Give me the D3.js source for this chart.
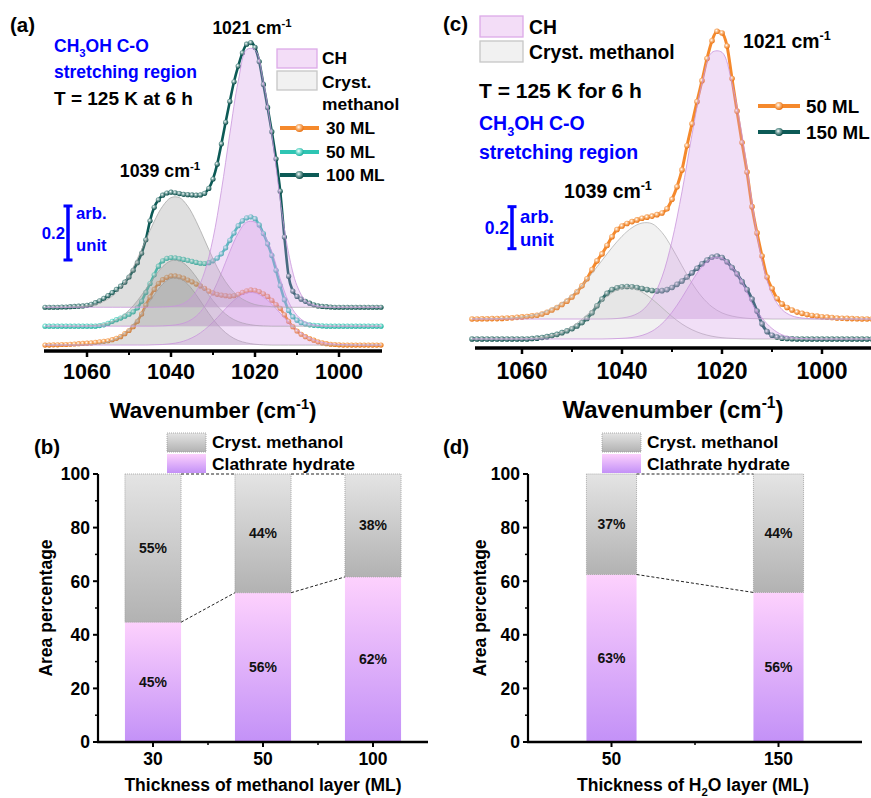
<!DOCTYPE html>
<html><head><meta charset="utf-8">
<script src="https://cdn.jsdelivr.net/npm/d3@7/dist/d3.min.js"></script>
<style>
html,body{margin:0;padding:0;background:#fff;}
svg{display:block;}
text{font-family:"Liberation Sans",Arial,Helvetica,sans-serif;font-weight:bold;}
</style></head><body>
<svg id="fig" width="871" height="798"></svg>
<script>
// ---------------- DATA ----------------
const wnFine = d3.range(1070, 989, -1);   // measured points, 1 cm-1 step
const wnFit  = d3.range(1070, 989, -2);   // fitted component sampling
const ticksMajor = [1060, 1040, 1020, 1000];
const ticksMinor = [1050, 1030, 1010];

// Panel (a): methanol thickness series (absorbance above own baseline)
const specA30 = [0,0,.001,.001,.002,.002,.003,.004,.005,.006,
 .007,.008,.01,.012,.014,.016,.02,.025,.031,.042,
 .054,.068,.088,.115,.148,.178,.206,.228,.242,.251,
 .256,.256,.253,.248,.241,.234,.226,.219,.21,.2,
 .193,.188,.185,.183,.181,.183,.188,.195,.201,.204,
 .203,.198,.19,.18,.166,.15,.136,.112,.088,.068,
 .052,.04,.031,.024,.018,.012,.008,.005,.003,.002,
 .001,0,0,0,0,0,0,0,0,0,0];
const specA50 = [0,0,0,0,0,0,0,0,0,0,
 0,0,0,.002,.005,.01,.018,.024,.03,.037,
 .044,.053,.068,.092,.125,.158,.19,.222,.242,.251,
 .254,.253,.25,.247,.244,.24,.236,.233,.232,.235,
 .242,.252,.268,.29,.318,.345,.372,.39,.401,.405,
 .398,.375,.343,.305,.262,.207,.15,.098,.058,.035,
 .022,.013,.008,.005,.003,.002,.001,0,0,0,
 0,0,0,0,0,0,0,0,0,0,0];
const specA100 = [0,0,0,0,.001,.001,.002,.003,.004,.005,
 .007,.011,.017,.024,.033,.043,.054,.066,.078,.093,
 .112,.137,.165,.2,.25,.32,.37,.398,.415,.423,
 .426,.424,.421,.418,.417,.416,.415,.416,.422,.44,
 .475,.53,.605,.685,.762,.835,.893,.942,.974,.98,
 .962,.91,.825,.74,.65,.55,.43,.26,.115,.06,
 .04,.03,.022,.015,.009,.005,.003,.002,.001,0,
 0,0,0,0,0,0,0,0,0,0,0];
const grayA30 = [0,0,0,0,0,.001,.003,.008,.017,.034,.060,.096,.140,.186,.225,.247,.247,.225,.186,.140,.096,.060,.034,.017,.008,.003,.001,0,0,0,0,0,0,0,0,0,0,0,0,0,0];
const purpleA30 = [0,0,0,0,0,0,0,0,0,0,0,0,0,.001,.002,.005,.010,.020,.035,.057,.085,.118,.151,.178,.193,.193,.178,.151,.118,.085,.057,.035,.020,.010,.005,.002,.001,0,0,0,0];
const grayA50 = [0,0,0,0,0,.001,.003,.008,.017,.033,.059,.094,.137,.182,.220,.242,.242,.220,.182,.137,.094,.059,.033,.017,.008,.003,.001,0,0,0,0,0,0,0,0,0,0,0,0,0,0];
const purpleA50 = [0,0,0,0,0,0,0,0,0,0,0,0,0,0,.001,.003,.007,.017,.037,.073,.127,.197,.276,.344,.385,.385,.344,.276,.175,.09,.04,.015,.005,.001,0,0,0,0,0,0,0];
const grayA100 = [0,0,0,.001,.002,.005,.010,.022,.041,.073,.119,.180,.249,.318,.374,.406,.406,.374,.318,.249,.180,.119,.073,.041,.022,.010,.005,.002,.001,0,0,0,0,0,0,0,0,0,0,0,0];
const purpleA100 = [0,0,0,0,0,0,0,0,0,0,0,0,0,0,.001,.003,.008,.024,.059,.131,.254,.432,.642,.836,.954,.954,.836,.642,.40,.20,.08,.025,.008,.002,0,0,0,0,0,0,0];
const offsetsA = [0, 0.07, 0.14];
const labelsA = ["30 ML", "50 ML", "100 ML"];

// Panel (c): H2O thickness series
const specC50 = [0,0,.001,.001,.002,.002,.003,.005,.006,.008,
 .01,.012,.015,.018,.024,.032,.043,.055,.069,.085,
 .105,.13,.158,.192,.235,.277,.31,.35,.392,.426,
 .443,.455,.464,.472,.48,.485,.49,.497,.505,.525,
 .57,.63,.71,.825,.93,1.035,1.135,1.24,1.325,1.37,
 1.362,1.3,1.145,.99,.84,.70,.535,.41,.30,.20,
 .145,.098,.072,.055,.043,.033,.027,.021,.017,.014,
 .011,.009,.007,.005,.004,.003,.002,.001,0,0,0];
const specC150 = [0,0,0,0,0,0,0,0,0,0,
 0,0,.002,.004,.007,.011,.016,.022,.03,.039,
 .049,.062,.078,.098,.125,.158,.19,.217,.235,.244,
 .249,.25,.249,.245,.24,.235,.231,.229,.23,.235,
 .245,.26,.276,.295,.315,.337,.358,.376,.39,.395,
 .388,.368,.34,.31,.273,.235,.19,.133,.072,.035,
 .018,.009,.004,.002,.001,0,0,0,0,0,
 0,0,0,0,0,0,0,0,0,0,0];
const grayC50 = [0,.001,.001,.003,.005,.010,.018,.030,.050,.077,.115,.162,.218,.279,.340,.394,.435,.457,.454,.412,.339,.253,.171,.105,.058,.029,.014,.006,.002,.001,0,0,0,0,0,0,0,0,0,0,0];
const purpleC50 = [0,0,0,0,0,0,0,0,0,0,0,0,0,0,.001,.005,.015,.040,.096,.200,.372,.606,.878,1.124,1.27,1.27,1.124,.878,.56,.28,.12,.045,.015,.005,.001,0,0,0,0,0,0];
const grayC150 = [0,0,0,0,0,.001,.003,.008,.017,.033,.059,.094,.137,.182,.220,.242,.243,.223,.190,.149,.107,.071,.044,.025,.013,.006,.003,.001,0,0,0,0,0,0,0,0,0,0,0,0,0];
const purpleC150 = [0,0,0,0,0,0,0,0,0,0,0,0,0,0,.001,.003,.007,.017,.037,.073,.127,.197,.276,.344,.385,.385,.344,.276,.17,.10,.05,.02,.007,.002,0,0,0,0,0,0,0];
const offsetsC = [0.095, 0];
const labelsC = ["50 ML", "150 ML"];

// Panel (b) & (d): area percentages
const thickB = ["30", "50", "100"];
const clathB = [44.7, 55.7, 61.6];
const crystB = [55.3, 44.3, 38.4];
const clathLabB = ["45%", "56%", "62%"];
const crystLabB = ["55%", "44%", "38%"];
const thickD = ["50", "150"];
const clathD = [62.5, 55.8];
const crystD = [37.5, 44.2];
const clathLabD = ["63%", "56%"];
const crystLabD = ["37%", "44%"];
const pctTicks = [0, 20, 40, 60, 80, 100];
const pctMinor = [10, 30, 50, 70, 90];

// ---------------- DRAW ----------------
const svg = d3.select('#fig');
const defs = svg.append('defs');
function ballGrad(id, mid, edge){
  const g = defs.append('radialGradient').attr('id', id).attr('cx','40%').attr('cy','38%').attr('r','62%');
  g.append('stop').attr('offset','0%').attr('stop-color','#ffffff');
  g.append('stop').attr('offset','38%').attr('stop-color', mid);
  g.append('stop').attr('offset','100%').attr('stop-color', edge);
}
ballGrad('bOr', '#fbbf88', '#e8700f');
ballGrad('bTe', '#8fe6da', '#18ad9c');
ballGrad('bDk', '#86aeab', '#084a46');
function linGrad(id, top, bot){
  const g = defs.append('linearGradient').attr('id', id).attr('x1',0).attr('y1',0).attr('x2',0).attr('y2',1);
  g.append('stop').attr('offset','0%').attr('stop-color', top);
  g.append('stop').attr('offset','100%').attr('stop-color', bot);
}
linGrad('gGray', '#e4e4e4', '#b2b2b2');
linGrad('gPink', '#fdd1fd', '#c391f7');

const BLUE = '#0000ff';
function rich(g, x, y, size, parts, opts = {}){
  const t = g.append('text').attr('x', x).attr('y', y).attr('font-size', size)
    .attr('fill', opts.fill || '#000').attr('text-anchor', opts.anchor || 'start');
  if (opts.transform) t.attr('transform', opts.transform);
  let shift = 0;
  parts.forEach(p => {
    if (typeof p === 'string') p = {t: p};
    const s = t.append('tspan').text(p.t);
    const target = p.sub ? size * 0.3 : p.sup ? -size * 0.42 : 0;
    const dy = target - shift; shift = target;
    if (dy) s.attr('dy', dy);
    if (p.sub || p.sup) s.attr('font-size', size * 0.65);
  });
  return t;
}

function spectrumPanel(cfg){
  const g = svg.append('g');
  const x = d3.scaleLinear().domain([1070, 990]).range(cfg.xr);
  const y = d3.scaleLinear().domain(cfg.yd).range(cfg.yr);
  // measured spectra (lines + ball markers)
  cfg.series.forEach(s => {
    const pts = wnFine.map((w, i) => [x(w), y(s.vals[i] + s.off)]);
    g.append('path').attr('d', d3.line().curve(d3.curveMonotoneX)(pts))
      .attr('fill', 'none').attr('stroke', s.color).attr('stroke-width', cfg.lw);
    g.append('g').selectAll('circle').data(pts).join('circle')
      .attr('cx', d => d[0]).attr('cy', d => d[1]).attr('r', cfg.r)
      .attr('fill', `url(#${s.grad})`);
  });
  // fitted components (translucent, on top)
  cfg.series.forEach(s => {
    [[s.gray, cfg.grayFill, cfg.grayStroke], [s.purple, cfg.purpFill, cfg.purpStroke]].forEach(([vals, f, st]) => {
      const area = d3.area().curve(d3.curveCatmullRom)
        .x((d, i) => x(wnFit[i])).y0(y(s.off)).y1(d => y(d + s.off));
      g.append('path').attr('d', area(vals)).attr('fill', f);
      const line = d3.line().curve(d3.curveCatmullRom)
        .x((d, i) => x(wnFit[i])).y(d => y(d + s.off));
      g.append('path').attr('d', line(vals)).attr('fill', 'none').attr('stroke', st).attr('stroke-width', 0.8);
    });
  });
  // x axis
  const ay = cfg.axisY;
  g.append('line').attr('x1', cfg.axX[0]).attr('x2', cfg.axX[1]).attr('y1', ay).attr('y2', ay)
    .attr('stroke', '#000').attr('stroke-width', 3.5);
  g.selectAll('line.maj').data(ticksMajor).join('line').attr('class','maj')
    .attr('x1', d => x(d)).attr('x2', d => x(d)).attr('y1', ay).attr('y2', ay + 6)
    .attr('stroke', '#000').attr('stroke-width', 2.5);
  g.selectAll('line.min').data(ticksMinor).join('line').attr('class','min')
    .attr('x1', d => x(d)).attr('x2', d => x(d)).attr('y1', ay).attr('y2', ay + 4)
    .attr('stroke', '#000').attr('stroke-width', 2);
  g.selectAll('text.tk').data(ticksMajor).join('text').attr('class','tk')
    .attr('x', d => x(d)).attr('y', cfg.tickBase).attr('text-anchor', 'middle')
    .attr('font-size', cfg.tickSize).text(d => d);
  rich(g, (cfg.axX[0] + cfg.axX[1]) / 2, cfg.titleBase, cfg.titleSize,
    ['Wavenumber (cm', {t: '-1', sup: true}, ')'], {anchor: 'middle'});
  // scale bar 0.2 arb. unit
  const sb = cfg.scaleBar;
  const y0 = y(sb.v0), y1 = y(sb.v0 + 0.2);
  g.append('line').attr('x1', sb.x).attr('x2', sb.x).attr('y1', y0).attr('y2', y1).attr('stroke', BLUE).attr('stroke-width', 3.5);
  [y0, y1].forEach(yy => g.append('line').attr('x1', sb.x - 4.5).attr('x2', sb.x + 4.5).attr('y1', yy).attr('y2', yy).attr('stroke', BLUE).attr('stroke-width', 3));
  g.append('text').attr('x', sb.x - 3).attr('y', (y0 + y1) / 2 + sb.size * 0.36).attr('text-anchor', 'end')
    .attr('font-size', sb.size).attr('fill', BLUE).text('0.2');
  g.append('text').attr('x', sb.x + 8).attr('y', sb.arbY).attr('font-size', sb.size2).attr('fill', BLUE).text('arb.');
  g.append('text').attr('x', sb.x + 8).attr('y', sb.unitY).attr('font-size', sb.size2).attr('fill', BLUE).text('unit');
  // line legend
  const lg = cfg.lineLegend;
  cfg.series.forEach((s, i) => {
    const yy = lg.y[i];
    g.append('line').attr('x1', lg.x0).attr('x2', lg.x1).attr('y1', yy).attr('y2', yy).attr('stroke', s.color).attr('stroke-width', 4.2);
    g.append('circle').attr('cx', (lg.x0 + lg.x1) / 2).attr('cy', yy).attr('r', 4).attr('fill', `url(#${s.grad})`);
    g.append('text').attr('x', lg.tx).attr('y', yy + lg.size * 0.36).attr('font-size', lg.size).text(s.label);
  });
  // swatch legend
  const sw = cfg.swatch;
  g.append('rect').attr('x', sw.x).attr('y', sw.y[0]).attr('width', sw.w).attr('height', sw.h)
    .attr('fill', '#f3ddf7').attr('stroke', '#dcaae8').attr('stroke-width', 1.3);
  g.append('rect').attr('x', sw.x).attr('y', sw.y[1]).attr('width', sw.w).attr('height', sw.h)
    .attr('fill', '#f1f1f1').attr('stroke', '#c6c6c6').attr('stroke-width', 1.3);
  return {g, x, y};
}

// ---- Panel (a)
const A = spectrumPanel({
  xr: [45, 381], yd: [-0.022, 1.2], yr: [351, 21], lw: 2.6, r: 2.6,
  series: [
    {vals: specA30, off: offsetsA[0], color: '#f5892c', grad: 'bOr', gray: grayA30, purple: purpleA30, label: labelsA[0]},
    {vals: specA50, off: offsetsA[1], color: '#2ec5b3', grad: 'bTe', gray: grayA50, purple: purpleA50, label: labelsA[1]},
    {vals: specA100, off: offsetsA[2], color: '#0c5a56', grad: 'bDk', gray: grayA100, purple: purpleA100, label: labelsA[2]}
  ],
  grayFill: 'rgba(150,150,150,0.30)', grayStroke: '#a9a9a9',
  purpFill: 'rgba(208,148,230,0.30)', purpStroke: '#c995dc',
  axisY: 351, axX: [44, 382], tickBase: 379, tickSize: 21.5, titleBase: 418, titleSize: 22.5,
  scaleBar: {x: 68, v0: 0.315, size: 16.7, size2: 16.7, arbY: 219, unitY: 251},
  lineLegend: {x0: 280, x1: 319, tx: 326, y: [128, 152, 175], size: 17.3},
  swatch: {x: 277, y: [49, 71], w: 40, h: 19}
});
rich(A.g, 10, 32, 20.5, ['(a)']);
rich(A.g, 252, 34, 17.5, ['1021 cm', {t: '-1', sup: true}], {anchor: 'middle'});
rich(A.g, 54, 52, 17.5, ['CH', {t: '3', sub: true}, 'OH C-O'], {fill: BLUE});
rich(A.g, 54, 78, 17.5, ['stretching region'], {fill: BLUE});
rich(A.g, 54, 105, 19, ['T = 125 K at 6 h']);
rich(A.g, 322, 64, 17.4, ['CH']);
rich(A.g, 322, 88, 17.4, ['Cryst.']);
rich(A.g, 322, 110, 17.4, ['methanol']);
rich(A.g, 160, 177, 17.8, ['1039 cm', {t: '-1', sup: true}], {anchor: 'middle'});

// ---- Panel (c)
const C = spectrumPanel({
  xr: [472, 872], yd: [-0.043, 1.5], yr: [348, 348 - 1.543 * 210], lw: 3, r: 2.8,
  series: [
    {vals: specC50, off: offsetsC[0], color: '#f5892c', grad: 'bOr', gray: grayC50, purple: purpleC50, label: labelsC[0]},
    {vals: specC150, off: offsetsC[1], color: '#0c5a56', grad: 'bDk', gray: grayC150, purple: purpleC150, label: labelsC[1]}
  ],
  grayFill: 'rgba(190,190,190,0.22)', grayStroke: '#b4b4b4',
  purpFill: 'rgba(208,148,230,0.30)', purpStroke: '#c995dc',
  axisY: 348, axX: [475, 871], tickBase: 379, tickSize: 23, titleBase: 418, titleSize: 24,
  scaleBar: {x: 512, v0: 0.43, size: 17.5, size2: 18.5, arbY: 223, unitY: 246},
  lineLegend: {x0: 758, x1: 800, tx: 806, y: [106, 132], size: 18.8},
  swatch: {x: 480, y: [16, 41], w: 43, h: 21}
});
rich(C.g, 443, 31, 20.5, ['(c)']);
rich(C.g, 529, 34, 19.3, ['CH']);
rich(C.g, 529, 59, 19.3, ['Cryst. methanol']);
rich(C.g, 479, 98, 21, ['T = 125 K for 6 h']);
rich(C.g, 479, 130, 19.5, ['CH', {t: '3', sub: true}, 'OH C-O'], {fill: BLUE});
rich(C.g, 479, 159, 19.5, ['stretching region'], {fill: BLUE});
rich(C.g, 743, 48, 19.4, ['1021 cm', {t: '-1', sup: true}]);
rich(C.g, 608, 198, 19.4, ['1039 cm', {t: '-1', sup: true}], {anchor: 'middle'});

// ---- Bar panels
function barPanel(cfg){
  const g = svg.append('g');
  const x = d3.scalePoint().domain(cfg.cats).range(cfg.xr).padding(0.5);
  const y = d3.scaleLinear().domain([0, 100]).range([742, 474]);
  const bw = x.step() * cfg.bwf;
  const rows = cfg.cats.map((c, i) => ({c, ch: cfg.ch[i], cr: cfg.cr[i], chL: cfg.chL[i], crL: cfg.crL[i]}));
  g.selectAll('rect.ch').data(rows).join('rect').attr('class', 'ch')
    .attr('x', d => x(d.c) - bw / 2).attr('y', d => y(d.ch)).attr('width', bw).attr('height', d => y(0) - y(d.ch))
    .attr('fill', 'url(#gPink)');
  g.selectAll('rect.cr').data(rows).join('rect').attr('class', 'cr')
    .attr('x', d => x(d.c) - bw / 2).attr('y', d => y(d.ch + d.cr)).attr('width', bw).attr('height', d => y(d.ch) - y(d.ch + d.cr))
    .attr('fill', 'url(#gGray)').attr('stroke', '#9a9a9a').attr('stroke-width', 0.8).attr('stroke-dasharray', '1,1');
  // connectors
  for (let i = 0; i < rows.length - 1; i++) {
    const a = rows[i], b = rows[i + 1];
    [[a.ch, b.ch], [a.ch + a.cr, b.ch + b.cr]].forEach(([va, vb]) => {
      g.append('line').attr('x1', x(a.c) + bw / 2).attr('x2', x(b.c) - bw / 2)
        .attr('y1', y(va)).attr('y2', y(vb)).attr('stroke', '#222').attr('stroke-width', 1).attr('stroke-dasharray', '3,2');
    });
  }
  // value labels
  g.selectAll('text.crl').data(rows).join('text').attr('class', 'crl')
    .attr('x', d => x(d.c)).attr('y', d => y(d.ch + d.cr / 2) + 5).attr('text-anchor', 'middle').attr('font-size', 14)
    .attr('fill', '#111').text(d => d.crL);
  g.selectAll('text.chl').data(rows).join('text').attr('class', 'chl')
    .attr('x', d => x(d.c)).attr('y', d => y(d.ch / 2) + 5).attr('text-anchor', 'middle').attr('font-size', 14)
    .attr('fill', '#111').text(d => d.chL);
  // axes
  const ax0 = cfg.xr[0];
  g.append('line').attr('x1', ax0).attr('x2', ax0).attr('y1', y(0) + 1).attr('y2', y(100)).attr('stroke', '#000').attr('stroke-width', 2.2);
  g.append('line').attr('x1', ax0 - 1).attr('x2', cfg.xr[1]).attr('y1', y(0)).attr('y2', y(0)).attr('stroke', '#000').attr('stroke-width', 2.5);
  g.selectAll('line.yt').data(pctTicks).join('line').attr('class', 'yt')
    .attr('x1', ax0 - 5).attr('x2', ax0).attr('y1', d => y(d)).attr('y2', d => y(d)).attr('stroke', '#000').attr('stroke-width', 2);
  g.selectAll('line.ym').data(pctMinor).join('line').attr('class', 'ym')
    .attr('x1', ax0 - 3).attr('x2', ax0).attr('y1', d => y(d)).attr('y2', d => y(d)).attr('stroke', '#000').attr('stroke-width', 1.5);
  g.selectAll('text.yl').data(pctTicks).join('text').attr('class', 'yl')
    .attr('x', ax0 - 8).attr('y', d => y(d) + 6.3).attr('text-anchor', 'end').attr('font-size', 17.5).text(d => d);
  g.selectAll('line.xt').data(cfg.cats).join('line').attr('class', 'xt')
    .attr('x1', d => x(d)).attr('x2', d => x(d)).attr('y1', y(0)).attr('y2', y(0) + 5).attr('stroke', '#000').attr('stroke-width', 2);
  const mids = cfg.cats.slice(1).map((c, i) => (x(c) + x(cfg.cats[i])) / 2);
  g.selectAll('line.xm').data(mids).join('line').attr('class', 'xm')
    .attr('x1', d => d).attr('x2', d => d).attr('y1', y(0)).attr('y2', y(0) + 3).attr('stroke', '#000').attr('stroke-width', 1.5);
  g.selectAll('text.xl').data(cfg.cats).join('text').attr('class', 'xl')
    .attr('x', d => x(d)).attr('y', 765).attr('text-anchor', 'middle').attr('font-size', 17.5).text(d => d);
  rich(g, cfg.xTitleX, 791, 17.5, cfg.xTitle, {anchor: 'middle'});
  rich(g, 0, 0, 17.5, ['Area percentage'], {anchor: 'middle', transform: `translate(${cfg.yTitleX},608) rotate(-90)`});
  // legend
  const lx = cfg.legX;
  g.append('rect').attr('x', lx).attr('y', 433).attr('width', 39).attr('height', 19).attr('fill', 'url(#gGray)')
    .attr('stroke', '#9a9a9a').attr('stroke-width', 0.8).attr('stroke-dasharray', '1,1');
  g.append('rect').attr('x', lx).attr('y', 454).attr('width', 39).attr('height', 19).attr('fill', 'url(#gPink)');
  g.append('text').attr('x', lx + 45).attr('y', 448).attr('font-size', 17.4).text('Cryst. methanol');
  g.append('text').attr('x', lx + 45).attr('y', 470).attr('font-size', 17.4).text('Clathrate hydrate');
  rich(g, cfg.tagX, 454, 20.5, [cfg.tag]);
  return g;
}
barPanel({cats: thickB, ch: clathB, cr: crystB, chL: clathLabB, crL: crystLabB, xr: [98, 428], bwf: 0.51,
  xTitle: ['Thickness of methanol layer (ML)'], xTitleX: 263, yTitleX: 52, legX: 167, tag: '(b)', tagX: 34});
barPanel({cats: thickD, ch: clathD, cr: crystD, chL: clathLabD, crL: crystLabD, xr: [528, 862], bwf: 0.3,
  xTitle: ['Thickness of H', {t: '2', sub: true}, 'O layer (ML)'], xTitleX: 693, yTitleX: 486, legX: 602, tag: '(d)', tagX: 443});
</script>
</body></html>
